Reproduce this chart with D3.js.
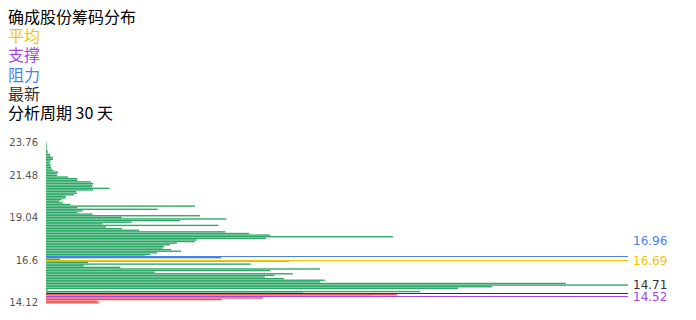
<!DOCTYPE html>
<html>
<head>
<meta charset="utf-8">
<script src="https://cdn.jsdelivr.net/npm/d3@7"></script>
<style>
  body { margin: 0; padding: 0; background: #fff; overflow: hidden; }
  .legend text { font-family: "Noto Sans CJK SC", "Noto Sans", sans-serif; font-size: 16px; }
  .axis text { font-family: "DejaVu Sans", sans-serif; font-size: 10px; fill: #555; }
  .marks text { font-family: "DejaVu Sans", sans-serif; font-size: 12px; }
</style>
</head>
<body>
<script>

    const title = "确成股份筹码分布";
    const periodDays = 30;

    const priceMin = 14.12;
    const priceMax = 23.76;

    // chip volume per price level, read from the top (23.76) down to the bottom (14.12)
    const chipsTopDown = [
      0.1, 0.1, 0.2, 0.1, 0.2, 0.3, 0.3, 0.7, 0.8, 1.2,
      1.2, 0.8, 0.6, 0.8, 0.8, 0.9, 1.0, 1.3, 2.1, 1.9,
      1.9, 3.8, 5.4, 5.4, 7.7, 8.1, 8.0, 7.9, 10.9, 8.1,
      5.2, 5.3, 4.8, 3.4, 3.4, 2.7, 2.3, 2.9, 4.2, 25.6,
      5.4, 19.2, 6.3, 5.4, 8.0, 26.5, 13.0, 31.0, 23.0, 14.7,
      9.7, 29.6, 10.3, 13.1, 16.0, 30.8, 34.9, 38.5, 59.6, 37.8,
      25.9, 25.6, 22.5, 21.3, 20.3, 20.1, 21.5, 23.2, 19.1, 17.9,
      17.0, 30.1, 2.4, 41.8, 7.2, 35.2, 6.5, 12.8, 47.1, 38.5,
      18.7, 42.4, 39.3, 37.6, 40.9, 47.9, 47.1, 89.3, 100, 76.6,
      70.8, 0.3, 64.3, 44.2, 60.3, 56.0, 37.3, 30.2, 8.8, 9.1
    ];
    const chips = chipsTopDown.slice().reverse(); // index 0 = lowest price

    // y axis labels and the price level they sit on (0 = bottom)
    const tickIndex = [0, 26, 53, 79, 99];
    const tickLabels = ["14.12", "16.6", "19.04", "21.48", "23.76"];

    // marker lines
    const markNames  = ["平均", "支撑", "阻力", "最新"];
    const markPrices = [16.69, 14.52, 16.96, 14.71];
    const markColors = ["#f5c200", "#a048e6", "#4a7ff0", "#333333"];
    const latestPrice = markPrices[3];

    const width = 696, height = 320;
    const plotLeft = 46, plotRight = 628, plotTop = 142.5, plotBottom = 303.5;

    const n = chips.length;
    const step = (priceMax - priceMin) / (n - 1);

    const svg = d3.select("body").append("svg")
      .attr("width", width)
      .attr("height", height);

    const y = d3.scaleBand()
      .domain(d3.range(n))
      .range([plotBottom, plotTop])
      .paddingInner(0.15);

    const x = d3.scaleLinear()
      .domain([0, d3.max(chips)])
      .range([plotLeft, plotRight]);

    const yPrice = d3.scaleLinear()
      .domain([priceMin, priceMax])
      .range([y(0) + y.bandwidth() / 2, y(n - 1) + y.bandwidth() / 2]);

    // legend block, top left
    const legendRows = [{t: title, c: "#000"}]
      .concat(markNames.map((d, i) => ({t: d, c: markColors[i]})))
      .concat([{t: "分析周期 " + periodDays + " 天", c: "#000"}]);

    svg.append("g").attr("class", "legend")
      .selectAll("text")
      .data(legendRows)
      .enter().append("text")
      .attr("x", 8)
      .attr("y", (d, i) => 22.7 + i * 19.3)
      .style("fill", d => d.c)
      .text(d => d.t);

    // chip bars
    svg.append("g")
      .selectAll("rect")
      .data(chips)
      .enter().append("rect")
      .attr("x", plotLeft)
      .attr("y", (d, i) => y(i))
      .attr("height", y.bandwidth())
      .attr("width", d => x(d) - plotLeft)
      .style("fill", (d, i) => (priceMin + i * step) < latestPrice - step / 2 ? "#ef5050" : "#2ca766");

    // y axis
    const axis = svg.append("g")
      .attr("class", "axis")
      .attr("transform", "translate(" + (plotLeft - 8) + ",0)")
      .call(d3.axisLeft(y)
        .tickValues(tickIndex)
        .tickFormat((d, i) => tickLabels[i])
        .tickSize(0)
        .tickPadding(0));
    axis.select(".domain").remove();

    // marker lines with their price on the right
    const labelDy = [0, 0, -15, -8];
    const marks = svg.append("g").attr("class", "marks");

    marks.selectAll("line")
      .data(markPrices)
      .enter().append("line")
      .attr("x1", plotLeft)
      .attr("x2", plotRight)
      .attr("y1", d => Math.round(yPrice(d)) + 0.5)
      .attr("y2", d => Math.round(yPrice(d)) + 0.5)
      .style("stroke", (d, i) => markColors[i])
      .style("stroke-width", 1.2);

    marks.selectAll("text")
      .data(markPrices)
      .enter().append("text")
      .attr("x", plotRight + 5)
      .attr("y", (d, i) => yPrice(d) + labelDy[i])
      .attr("dy", "0.36em")
      .style("fill", (d, i) => markColors[i])
      .text(d => d.toFixed(2));

</script>
</body>
</html>
